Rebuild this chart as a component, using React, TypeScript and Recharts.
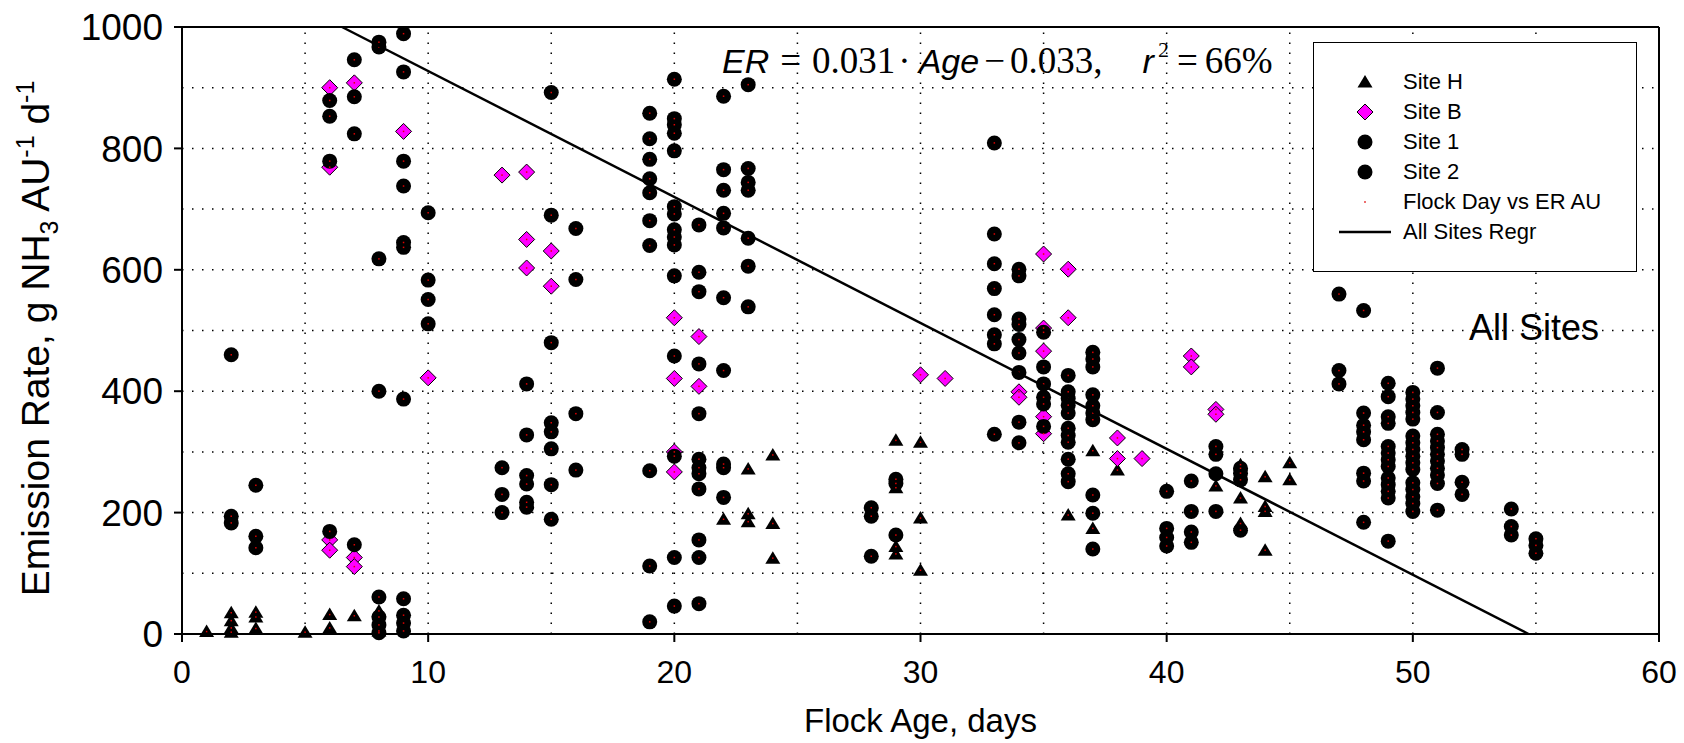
import React from "react";
import { ScatterChart, Scatter, XAxis, YAxis, ReferenceLine, Legend } from "recharts";

// flock age (days) -> emission rates, g NH3 AU-1 d-1
const SITE_H: [number, number[]][] = [
  [1, [4]], [2, [35, 22, 10, 3]], [3, [36, 28, 9]], [5, [3]], [6, [32, 10]], [7, [30]], [8, [38, 5]],
  [22, [189]], [23, [272, 198, 185]], [24, [295, 182, 125]], [29, [319, 241, 144, 132]], [30, [316, 191, 105]],
  [36, [196]], [37, [302, 174]], [38, [270]], [42, [244]], [43, [279, 224, 182]], [44, [259, 210, 202, 138]], [45, [282, 254]],
];

const SITE_B: [number, number[]][] = [
  [6, [900, 769, 155, 138]], [7, [908, 126, 111]], [9, [828]], [10, [422]], [13, [756]], [14, [761, 650, 603]],
  [15, [631, 573]], [20, [521, 421, 300, 267]], [21, [490, 408]], [30, [427]], [31, [421]], [34, [399, 390]],
  [35, [626, 504, 466, 358, 330]], [36, [601, 521]], [38, [323, 289]], [39, [289]], [41, [458, 440]], [42, [370, 362]],
];

const SITE_1: [number, number[]][] = [
  [2, [460, 194, 183]], [3, [245, 161, 142]], [6, [879, 853, 779, 169]], [7, [946, 885, 824, 147]],
  [8, [975, 967, 618, 400, 61, 28, 15, 2]], [9, [989, 926, 779, 738, 645, 637, 387, 58, 31, 18, 5]],
  [10, [694, 583, 551, 511]], [13, [274, 230, 200]], [14, [412, 328, 261, 247, 217, 209]],
  [15, [892, 690, 480, 348, 333, 305, 246, 189]], [16, [668, 584, 363, 270]],
  [19, [858, 816, 782, 750, 727, 681, 640, 269, 112, 20]],
  [20, [914, 849, 839, 825, 796, 704, 692, 666, 654, 641, 590, 458, 293, 126, 46]],
  [21, [674, 596, 564, 445, 363, 288, 274, 264, 239, 155, 126, 50]],
  [22, [886, 765, 731, 693, 669, 554, 434, 280, 274, 225]], [23, [905, 767, 744, 731, 652, 606, 539]],
];

const SITE_2: [number, number[]][] = [
  [28, [208, 194, 128]], [29, [255, 248, 163]], [33, [809, 659, 610, 569, 526, 493, 478, 329]],
  [34, [601, 590, 519, 510, 485, 463, 431, 349, 315]], [35, [497, 440, 412, 390, 379, 342]],
  [36, [426, 399, 388, 377, 364, 339, 327, 316, 288, 264, 251]],
  [37, [464, 453, 440, 394, 376, 364, 353, 229, 199, 140]], [40, [235, 174, 159, 145]],
  [41, [252, 202, 168, 151]], [42, [309, 296, 264, 202]], [43, [273, 265, 254, 171]], [47, [560, 434, 412]],
  [48, [533, 364, 344, 333, 320, 265, 252, 184]],
  [49, [413, 391, 358, 347, 309, 298, 287, 276, 257, 246, 235, 224, 153]],
  [50, [398, 387, 376, 365, 354, 326, 315, 304, 293, 282, 271, 249, 238, 226, 215, 202]],
  [51, [438, 365, 329, 318, 307, 296, 285, 273, 262, 248, 204]], [52, [304, 296, 250, 230]],
  [54, [206, 177, 163]], [55, [157, 146, 133]],
];

// regression line end points (age, ER)
const REGR_AGE = [6.5, 54.7];
const REGR_ER = [1000, 0];

const X_TICKS = [0, 10, 20, 30, 40, 50, 60];
const Y_TICKS = [0, 200, 400, 600, 800, 1000];
const X_GRID = [5, 10, 15, 20, 25, 30, 35, 40, 45, 50, 55];
const Y_GRID = [100, 200, 300, 400, 500, 600, 700, 800, 900];
const LEGEND_ORDER = ["Site H", "Site B", "Site 1", "Site 2", "Flock Day vs ER AU", "All Sites Regr"];

const pts = (rows: [number, number[]][]) => rows.flatMap(([x, ys]) => ys.map((y) => ({ x, y })));

const siteH = pts(SITE_H);
const siteB = pts(SITE_B);
const site1 = pts(SITE_1);
const site2 = pts(SITE_2);
const allSites = [...siteH, ...siteB, ...site1, ...site2];
const regr = REGR_AGE.map((x, i) => ({ x, y: REGR_ER[i] }));

const SANS = "'Liberation Sans', Arial, sans-serif";
const SERIF = "'Liberation Serif', 'Times New Roman', serif";

const Triangle = ({ cx, cy }: any) => (
  <polygon points={`${cx},${cy - 7} ${cx - 7.5},${cy + 5.5} ${cx + 7.5},${cy + 5.5}`} fill="#000" />
);
const Diamond = ({ cx, cy }: any) => (
  <polygon points={`${cx},${cy - 8} ${cx + 8},${cy} ${cx},${cy + 8} ${cx - 8},${cy}`} fill="#ff00ff" stroke="#000" strokeWidth={1} />
);
const Dot = ({ cx, cy }: any) => <circle cx={cx} cy={cy} r={7.5} fill="#000" />;
const Speck = ({ cx, cy }: any) => <rect x={cx - 0.75} y={cy - 0.75} width={1.5} height={1.5} fill="#e00000" />;
const NoShape = () => <g />;

function legendIcon(name: string) {
  const cx = 51, cy = 15;
  if (name === "Site H") return <Triangle cx={cx} cy={cy} />;
  if (name === "Site B") return <Diamond cx={cx} cy={cy} />;
  if (name === "Site 1" || name === "Site 2") return <Dot cx={cx} cy={cy} />;
  if (name === "Flock Day vs ER AU") return <Speck cx={cx} cy={cy} />;
  return <line x1={25} x2={77} y1={cy} y2={cy} stroke="#000" strokeWidth={2.5} />;
}

function LegendBox(props: any) {
  const items = [...(props.payload || [])].sort(
    (a: any, b: any) => LEGEND_ORDER.indexOf(a.value) - LEGEND_ORDER.indexOf(b.value)
  );
  return (
    <div style={{ width: 324, height: 230, boxSizing: "border-box", border: "1px solid #000", background: "#fff", paddingTop: 24, fontFamily: SANS, fontSize: 22, color: "#000" }}>
      {items.map((it: any) => (
        <div key={it.value} style={{ height: 30, display: "flex", alignItems: "center" }}>
          <svg width={89} height={30} style={{ flex: "none" }}>{legendIcon(it.value)}</svg>
          <span style={{ lineHeight: "30px", whiteSpace: "nowrap" }}>{it.value}</span>
        </div>
      ))}
    </div>
  );
}

function YLabel({ viewBox }: any) {
  const x = viewBox.x - 13;
  const y = viewBox.y + viewBox.height / 2 + 8;
  return (
    <text transform={`translate(${x},${y}) rotate(-90)`} textAnchor="middle" fontSize={39} fontFamily={SANS} fill="#000">
      Emission Rate, g NH<tspan fontSize={25} dy={9}>3</tspan>
      <tspan dy={-9}> AU</tspan><tspan fontSize={25} dy={-15}>-1</tspan>
      <tspan dy={15}> d</tspan><tspan fontSize={25} dy={-15}>-1</tspan>
    </text>
  );
}

export default function App() {
  return (
    <div style={{ position: "absolute", left: 0, top: 0, width: 1684, height: 743, fontFamily: SANS, background: "#fff" }}>
      <ScatterChart width={1684} height={743} margin={{ top: 27, right: 25, bottom: 2, left: 62 }}>
        <XAxis
          type="number" dataKey="x" domain={[0, 60]} ticks={X_TICKS} interval={0} height={107}
          axisLine={{ stroke: "#000", strokeWidth: 2 }} tickLine={{ stroke: "#000", strokeWidth: 2 }}
          tickSize={8} tickMargin={18} tick={{ fontSize: 32, fill: "#000" }}
          label={{ value: "Flock Age, days", position: "insideBottom", offset: 9, fontSize: 33, fill: "#000" }}
        />
        <YAxis
          type="number" dataKey="y" domain={[0, 1000]} ticks={Y_TICKS} interval={0} width={120}
          axisLine={{ stroke: "#000", strokeWidth: 2 }} tickLine={{ stroke: "#000", strokeWidth: 2 }}
          tickSize={8} tickMargin={11} tick={{ fontSize: 37, fill: "#000" }}
          label={{ content: YLabel }}
        />
        {Y_GRID.map((v) => (
          <ReferenceLine key={"gy" + v} y={v} stroke="#000" strokeWidth={1.5} strokeDasharray="1.5 8.5" />
        ))}
        {X_GRID.map((v) => (
          <ReferenceLine key={"gx" + v} x={v} stroke="#000" strokeWidth={1.5} strokeDasharray="1.5 8.5" />
        ))}
        <ReferenceLine y={1000} stroke="#000" strokeWidth={2} />
        <ReferenceLine x={60} stroke="#000" strokeWidth={2} />
        <Scatter name="Site H" data={siteH} shape={Triangle} isAnimationActive={false} />
        <Scatter name="Site B" data={siteB} shape={Diamond} isAnimationActive={false} />
        <Scatter name="Site 1" data={site1} shape={Dot} isAnimationActive={false} />
        <Scatter name="Site 2" data={site2} shape={Dot} isAnimationActive={false} />
        <Scatter name="Flock Day vs ER AU" data={allSites} shape={Speck} isAnimationActive={false} />
        <Scatter
          name="All Sites Regr" data={regr} shape={NoShape} legendType="line"
          line={{ stroke: "#000", strokeWidth: 2.5 }} isAnimationActive={false}
        />
        <Legend
          layout="horizontal" align="center" verticalAlign="middle" content={LegendBox}
          wrapperStyle={{ top: 42, left: 1313, width: 324, height: 230 }}
        />
      </ScatterChart>
      <div style={{ position: "absolute", left: 722, top: 42, fontFamily: SERIF, fontSize: 37, lineHeight: 1, whiteSpace: "nowrap", color: "#000" }}>
        <span style={{ fontFamily: SANS, fontStyle: "italic", fontSize: 34 }}>ER</span>
        <span style={{ marginLeft: 11 }}>=</span>
        <span style={{ marginLeft: 11 }}>0.031</span>
        <span style={{ marginLeft: 3 }}>·</span>
        <span style={{ marginLeft: 8, fontFamily: SANS, fontStyle: "italic", fontSize: 34 }}>Age</span>
        <span style={{ marginLeft: 5 }}>−</span>
        <span style={{ marginLeft: 5 }}>0.033,</span>
        <span style={{ marginLeft: 40, fontFamily: SANS, fontStyle: "italic", fontSize: 34 }}>r</span>
        <span style={{ marginLeft: 4, fontSize: 22, position: "relative", top: -16 }}>2</span>
        <span style={{ marginLeft: 8 }}>=</span>
        <span style={{ marginLeft: 7 }}>66%</span>
      </div>
      <div style={{ position: "absolute", left: 1469, top: 310, fontFamily: SANS, fontSize: 36, lineHeight: 1, color: "#000", whiteSpace: "nowrap" }}>
        All Sites
      </div>
    </div>
  );
}
